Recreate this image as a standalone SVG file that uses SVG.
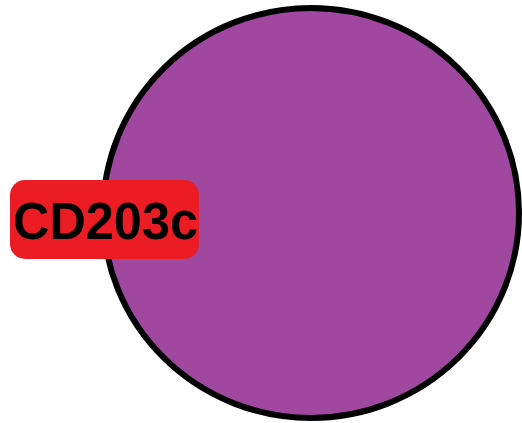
<svg xmlns="http://www.w3.org/2000/svg" width="522" height="423" viewBox="0 0 522 423">
  <style>
    .cell { fill: #A047A0; stroke: #000000; stroke-width: 6; }
    .marker-box { fill: #EC1C24; }
    .marker-label { font-family: "Liberation Sans", Arial, sans-serif; font-weight: bold; font-size: 51px; fill: #000000; }
  </style>
  <rect width="522" height="423" fill="#FFFFFF"/>
  <!-- cell body -->
  <g id="cell">
    <ellipse class="cell" cx="311" cy="213" rx="208" ry="205"/>
  </g>
  <!-- surface marker tag -->
  <g id="cd203c">
    <rect class="marker-box" x="10" y="180" width="189" height="79" rx="15" ry="15"/>
    <text class="marker-label" x="13" y="238.5" textLength="185" lengthAdjust="spacingAndGlyphs">CD203c</text>
  </g>
  <g id="connectors"/>
</svg>
